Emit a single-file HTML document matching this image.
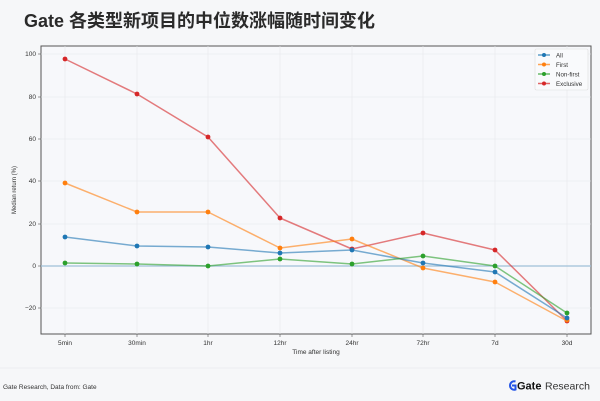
<!DOCTYPE html>
<html><head><meta charset="utf-8"><style>
html,body{margin:0;padding:0;background:#f6f7f9;}
svg{display:block;font-family:"Liberation Sans","Noto Sans CJK SC",sans-serif;}
</style></head><body>
<svg width="600" height="401" viewBox="0 0 600 401" xmlns="http://www.w3.org/2000/svg">
<rect width="600" height="401" fill="#f6f7f9"/>
<text x="24" y="27" font-size="18" font-weight="bold" fill="#2a2a2a" font-family="'Liberation Sans','Noto Sans CJK SC',sans-serif">Gate 各类型新项目的中位数涨幅随时间变化</text>
<rect x="41" y="46" width="550" height="288" fill="#f7f8fb" stroke="#555" stroke-width="1"/>
<g stroke="#e6e8ec" stroke-width="0.6">
<line x1="65" y1="46" x2="65" y2="334"/><line x1="137" y1="46" x2="137" y2="334"/><line x1="208" y1="46" x2="208" y2="334"/><line x1="280" y1="46" x2="280" y2="334"/><line x1="352" y1="46" x2="352" y2="334"/><line x1="423" y1="46" x2="423" y2="334"/><line x1="495" y1="46" x2="495" y2="334"/><line x1="567" y1="46" x2="567" y2="334"/>
<line x1="41" y1="54" x2="591" y2="54"/><line x1="41" y1="97" x2="591" y2="97"/><line x1="41" y1="139" x2="591" y2="139"/><line x1="41" y1="181" x2="591" y2="181"/><line x1="41" y1="224" x2="591" y2="224"/><line x1="41" y1="308" x2="591" y2="308"/>
</g>
<line x1="41" y1="266" x2="591" y2="266" stroke="#9ec0d8" stroke-width="1.3"/>
<g font-size="6.5" fill="#333" text-anchor="end">
<text x="36" y="56">100</text><text x="36" y="99">80</text><text x="36" y="141">60</text><text x="36" y="183">40</text><text x="36" y="226">20</text><text x="36" y="268">0</text><text x="36" y="310">−20</text>
</g>
<g stroke="#555" stroke-width="0.6">
<line x1="38" y1="54" x2="41" y2="54"/><line x1="38" y1="97" x2="41" y2="97"/><line x1="38" y1="139" x2="41" y2="139"/><line x1="38" y1="181" x2="41" y2="181"/><line x1="38" y1="224" x2="41" y2="224"/><line x1="38" y1="266" x2="41" y2="266"/><line x1="38" y1="308" x2="41" y2="308"/>
<line x1="65" y1="334" x2="65" y2="337"/><line x1="137" y1="334" x2="137" y2="337"/><line x1="208" y1="334" x2="208" y2="337"/><line x1="280" y1="334" x2="280" y2="337"/><line x1="352" y1="334" x2="352" y2="337"/><line x1="423" y1="334" x2="423" y2="337"/><line x1="495" y1="334" x2="495" y2="337"/><line x1="567" y1="334" x2="567" y2="337"/>
</g>
<g font-size="6.5" fill="#333" text-anchor="middle">
<text x="65" y="345">5min</text><text x="137" y="345">30min</text><text x="208" y="345">1hr</text><text x="280" y="345">12hr</text><text x="352" y="345">24hr</text><text x="423" y="345">72hr</text><text x="495" y="345">7d</text><text x="567" y="345">30d</text>
<text x="316" y="354" font-size="6.5">Time after listing</text>
</g>
<text transform="translate(16,190) rotate(-90)" font-size="6" fill="#333" text-anchor="middle">Median return (%)</text>
<g fill="none" stroke-width="1.5" stroke-opacity="0.6" stroke-linejoin="round">
<polyline stroke="#d62728" points="65,59 137,94 208,137 280,218 352,249 423,233 495,250 567,321"/>
<polyline stroke="#ff7f0e" points="65,183 137,212 208,212 280,248 352,239 423,268 495,282 567,321"/>
<polyline stroke="#1f77b4" points="65,237 137,246 208,247 280,253 352,250 423,263 495,272 567,318"/>
<polyline stroke="#2ca02c" points="65,263 137,264 208,266 280,259 352,264 423,256 495,266 567,313"/>
</g>
<g>
<g fill="#d62728"><circle cx="65" cy="59" r="2.4"/><circle cx="137" cy="94" r="2.4"/><circle cx="208" cy="137" r="2.4"/><circle cx="280" cy="218" r="2.4"/><circle cx="352" cy="249" r="2.4"/><circle cx="423" cy="233" r="2.4"/><circle cx="495" cy="250" r="2.4"/><circle cx="567" cy="321" r="2.4"/></g>
<g fill="#ff7f0e"><circle cx="65" cy="183" r="2.4"/><circle cx="137" cy="212" r="2.4"/><circle cx="208" cy="212" r="2.4"/><circle cx="280" cy="248" r="2.4"/><circle cx="352" cy="239" r="2.4"/><circle cx="423" cy="268" r="2.4"/><circle cx="495" cy="282" r="2.4"/><circle cx="567" cy="320" r="2.4"/></g>
<g fill="#1f77b4"><circle cx="65" cy="237" r="2.4"/><circle cx="137" cy="246" r="2.4"/><circle cx="208" cy="247" r="2.4"/><circle cx="280" cy="253" r="2.4"/><circle cx="352" cy="250" r="2.4"/><circle cx="423" cy="263" r="2.4"/><circle cx="495" cy="272" r="2.4"/><circle cx="567" cy="318" r="2.4"/></g>
<g fill="#2ca02c"><circle cx="65" cy="263" r="2.4"/><circle cx="137" cy="264" r="2.4"/><circle cx="208" cy="266" r="2.4"/><circle cx="280" cy="259" r="2.4"/><circle cx="352" cy="264" r="2.4"/><circle cx="423" cy="256" r="2.4"/><circle cx="495" cy="266" r="2.4"/><circle cx="567" cy="313" r="2.4"/></g>
</g>
<rect x="535" y="49" width="53" height="41" fill="#f9fafc" stroke="#ddd" stroke-width="0.6" rx="1.5"/>
<g stroke-width="1.5" stroke-opacity="0.7">
<line x1="538" y1="55" x2="550" y2="55" stroke="#1f77b4"/><line x1="538" y1="64.5" x2="550" y2="64.5" stroke="#ff7f0e"/><line x1="538" y1="74" x2="550" y2="74" stroke="#2ca02c"/><line x1="538" y1="83.5" x2="550" y2="83.5" stroke="#d62728"/>
</g>
<circle cx="544" cy="55" r="2" fill="#1f77b4"/><circle cx="544" cy="64.5" r="2" fill="#ff7f0e"/><circle cx="544" cy="74" r="2" fill="#2ca02c"/><circle cx="544" cy="83.5" r="2" fill="#d62728"/>
<g font-size="6.2" fill="#333">
<text x="556" y="57.5">All</text><text x="556" y="67">First</text><text x="556" y="76.5">Non-first</text><text x="556" y="86">Exclusive</text>
</g>
<line x1="0" y1="368" x2="600" y2="368" stroke="#eceef1" stroke-width="1"/>
<text x="3" y="389" font-size="6.5" fill="#333">Gate Research, Data from: Gate</text>
<g transform="translate(510,385.5)">
<path d="M5.5,-4 A4.2,4.2 0 1 0 5.5,4 L5.5,0 L2,0" fill="none" stroke="#2354e6" stroke-width="2"/>
</g>
<text x="517" y="389.5" font-size="11" font-weight="bold" fill="#111">Gate</text>
<text x="545" y="389.5" font-size="10.5" fill="#333">Research</text>
</svg>
</body></html>
